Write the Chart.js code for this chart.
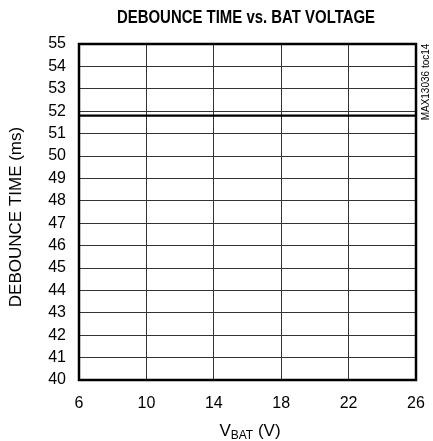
<!DOCTYPE html>
<html>
<head>
<meta charset="utf-8">
<script src="https://cdn.jsdelivr.net/npm/chart.js@4/dist/chart.umd.min.js"></script>
<style>
  html, body { margin: 0; padding: 0; background: #fff; }
  #wrap { width: 433px; height: 441px; }
</style>
</head>
<body>
<div id="wrap"><canvas id="chart" width="433" height="441"></canvas></div>
<script>
const FONT = "'Liberation Sans', Arial, sans-serif";

// data
const vbat = [6, 10, 14, 18, 22, 26];
const debounceMs = [51.8, 51.8, 51.8, 51.8, 51.8, 51.8];
const xTicks = [6, 10, 14, 18, 22, 26];
const yMin = 40, yMax = 55;

const chartTitle = 'DEBOUNCE TIME vs. BAT VOLTAGE';
const yTitle = 'DEBOUNCE TIME (ms)';
const sideNote = 'MAX13036 toc14';

// narrow-looking text: squeeze horizontally
function narrowText(ctx, text, x, y, sx) {
  ctx.save();
  ctx.translate(x, y);
  ctx.scale(sx, 1);
  ctx.fillText(text, 0, 0);
  ctx.restore();
}

const decorations = {
  id: 'decorations',
  afterDatasetsDraw(chart) {
    const ctx = chart.ctx;
    const a = chart.chartArea;
    ctx.save();
    // frame
    ctx.strokeStyle = '#000';
    ctx.lineWidth = 2.5;
    ctx.strokeRect(a.left, a.top, a.right - a.left, a.bottom - a.top);

    ctx.fillStyle = '#000';
    ctx.textAlign = 'center';
    ctx.textBaseline = 'middle';
    // title
    ctx.font = 'bold 18px ' + FONT;
    narrowText(ctx, chartTitle, 246, 18, 0.83);

    // y title
    ctx.save();
    ctx.translate(16, 217);
    ctx.rotate(-Math.PI / 2);
    ctx.font = '17px ' + FONT;
    narrowText(ctx, yTitle, 0, 0, 1.0);
    ctx.restore();

    // side note
    ctx.save();
    ctx.translate(426, 82);
    ctx.rotate(-Math.PI / 2);
    ctx.font = '10px ' + FONT;
    ctx.fillText(sideNote, 0, 0);
    ctx.restore();

    // x title with subscript
    ctx.textAlign = 'left';
    ctx.textBaseline = 'alphabetic';
    const big = '17px ' + FONT, small = '12px ' + FONT;
    ctx.font = big; const w1 = ctx.measureText('V').width;
    ctx.font = small; const w2 = ctx.measureText('BAT').width;
    ctx.font = big; const w3 = ctx.measureText(' (V)').width;
    let x = 250 - (w1 + w2 + w3) / 2;
    const base = 436;
    ctx.font = big; ctx.fillText('V', x, base); x += w1;
    ctx.font = small; ctx.fillText('BAT', x, base + 3); x += w2;
    ctx.font = big; ctx.fillText(' (V)', x, base);
    ctx.restore();
  }
};

new Chart(document.getElementById('chart').getContext('2d'), {
  type: 'line',
  data: {
    datasets: [{
      data: vbat.map((v, i) => ({ x: v, y: debounceMs[i] })),
      borderColor: '#000',
      borderWidth: 2.2,
      pointRadius: 0,
      tension: 0
    }]
  },
  options: {
    responsive: false,
    animation: false,
    layout: { padding: { left: 0, top: 44, right: 17, bottom: 0 } },
    plugins: { legend: { display: false }, tooltip: { enabled: false } },
    scales: {
      x: {
        type: 'linear',
        min: 6, max: 26,
        afterBuildTicks: s => { s.ticks = xTicks.map(v => ({ value: v })); },
        afterFit: s => { s.height = 61; s.paddingLeft = 0; s.paddingRight = 0; },
        grid: { color: '#333', lineWidth: 1, drawTicks: false },
        border: { display: false },
        ticks: { color: '#000', padding: 14, font: { family: FONT, size: 16 } }
      },
      y: {
        min: yMin, max: yMax,
        afterFit: s => { s.width = 79; s.paddingTop = 0; s.paddingBottom = 0; },
        grid: { color: '#333', lineWidth: 1, drawTicks: false },
        border: { display: false },
        ticks: { stepSize: 1, color: '#000', padding: 13, font: { family: FONT, size: 16 } }
      }
    }
  },
  plugins: [decorations]
});
</script>
</body>
</html>
